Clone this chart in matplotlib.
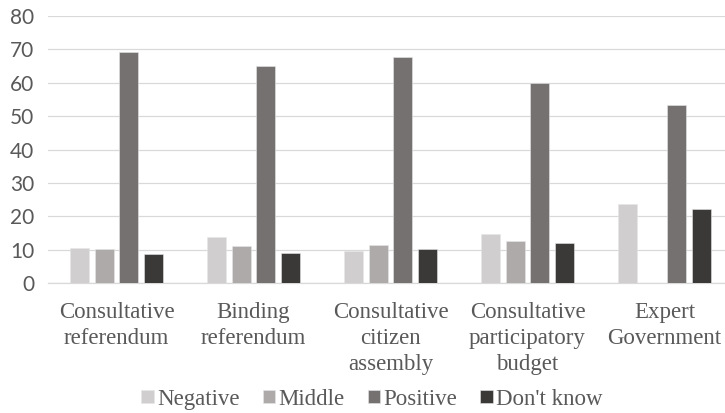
import numpy as np
import matplotlib
matplotlib.use("Agg")
import matplotlib.pyplot as plt

# ---- data ------------------------------------------------------------------
categories = ["Consultative\nreferendum", "Binding\nreferendum",
              "Consultative\ncitizen\nassembly", "Consultative\nparticipatory\nbudget",
              "Expert\nGovernment"]
series = ["Negative", "Middle", "Positive", "Don't know"]
negative = [10.6, 13.9, 9.7, 14.6, 23.8]
middle = [10.1, 11.1, 11.5, 12.7, 0.0]
positive = [69.1, 65.1, 67.6, 59.9, 53.4]
dont_know = [8.6, 9.1, 10.2, 11.9, 22.1]
yticks = [0, 10, 20, 30, 40, 50, 60, 70, 80]

colors = ["#d0cece", "#aeaaaa", "#767171", "#3b3838"]
txt = "#595959"

W, H = 725, 413
fig = plt.figure(figsize=(W / 100, H / 100), dpi=100)
# axes runs a bit past the right edge, like the cropped original
ax = fig.add_axes([48 / W, 1 - 283 / H, 685 / W, 267 / H])

x = np.arange(len(categories))
step = 0.179
width = 0.139
for i, (name, vals) in enumerate(zip(series, [negative, middle, positive, dont_know])):
    ax.bar(x + (i - 1.5) * step, vals, width, color=colors[i], label=name,
           edgecolor="#e6e6e6", linewidth=0.4, zorder=3)

ax.set_xlim(-0.5, len(categories) - 0.5)
ax.set_ylim(0, 80)
ax.set_yticks(yticks)
ax.grid(axis="y", color="#d9d9d9", linewidth=0.9, zorder=0)
for s in ["top", "right", "left"]:
    ax.spines[s].set_visible(False)
ax.spines["bottom"].set_color("#d9d9d9")
ax.spines["bottom"].set_linewidth(0.9)
ax.tick_params(axis="both", length=0)
ax.tick_params(axis="y", pad=10)
ax.tick_params(axis="x", pad=14)

ax.set_xticks(x)
ax.set_xticklabels(categories, family="Liberation Serif", fontsize=16.5, color=txt,
                   linespacing=1.3, va="top")
for lab in ax.get_yticklabels():
    lab.set_family("Lato")
    lab.set_fontsize(15)
    lab.set_color(txt)

leg = fig.legend(loc="lower center", bbox_to_anchor=(372 / W, -0.025), ncol=4, frameon=False,
                 prop={"family": "Liberation Serif", "size": 16.5},
                 handlelength=0.55, handleheight=0.55, handletextpad=0.15,
                 columnspacing=1.0, borderaxespad=0.2)
for t in leg.get_texts():
    t.set_color(txt)

plt.savefig("out.png", dpi=100)
